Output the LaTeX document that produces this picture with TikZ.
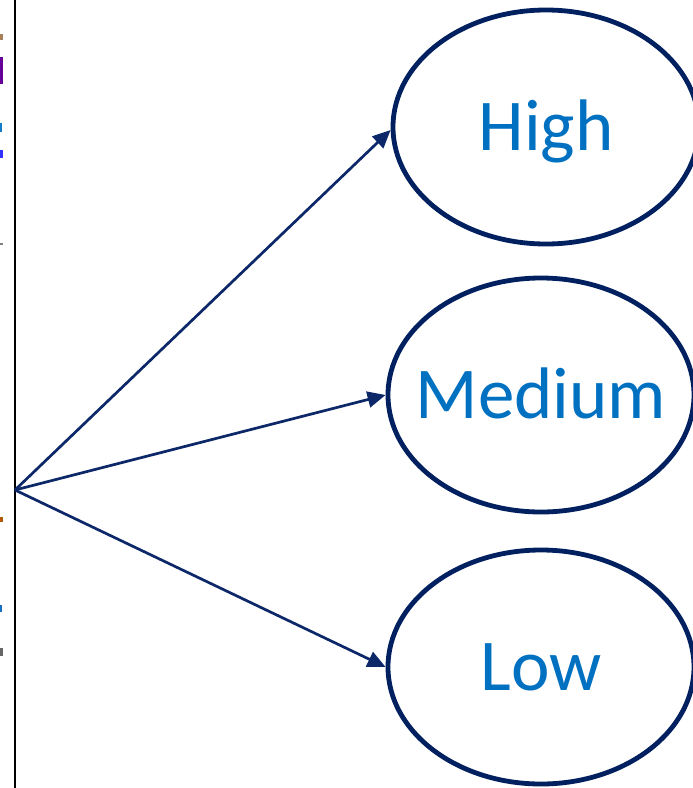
\documentclass[tikz,border=0pt]{standalone}
\usepackage{fontspec}
\setmainfont{Carlito}
\usetikzlibrary{shapes.geometric,arrows.meta}
\definecolor{navy}{HTML}{002060}
\definecolor{arrowblue}{HTML}{0D2869}
\definecolor{textblue}{HTML}{0070C0}
\newcommand{\lvltext}[1]{\makebox[0pt][c]{#1}}
\tikzset{
  level/.style={ellipse, draw=navy, line width=4.8pt, fill=white,
    minimum width=306pt, minimum height=234pt, inner sep=0pt,
    text height=47pt, text depth=0pt,
    text=textblue, font=\fontsize{73}{80}\selectfont},
  link/.style={draw=arrowblue, line width=2.7pt,
    -{Triangle[length=18pt,width=16pt]}}
}
\begin{document}
\begin{tikzpicture}[x=1pt,y=-1pt]
  \useasboundingbox (0,0) rectangle (693,788);
  \fill[white] (0,0) rectangle (693,788);

  % divider rule on the left
  \draw[black, line width=2.6pt] (15,0) -- (15,788);

  % clipped glyph remnants left of the rule
  \fill[gray!70!orange] (0,34) rectangle (2.5,40);
  \fill[violet!80!blue] (0,57) rectangle (3,84);
  \fill[cyan!60!blue] (0,123) rectangle (2,132);
  \fill[blue!80] (0,150) rectangle (2.5,158);
  \fill[gray] (0,243) rectangle (3,245);
  \fill[orange!70!black] (0,517) rectangle (2.5,522);
  \fill[cyan!50!blue] (0,605) rectangle (2,612);
  \fill[gray!80!black] (0,648) rectangle (2.5,656);

  % the three levels
  \node[level] (high) at (546,127) {\lvltext{High}};
  \node[level] (medium) at (541,395) {\lvltext{Medium}};
  \node[level] (low) at (541,667) {\lvltext{Low}};

  % common origin of the connectors
  \coordinate (src) at (15,490);

  \draw[link] (src) -- ([yshift=-3pt]high.west);
  \draw[link] (src) -- (medium.west);
  \draw[link] (src) -- (low.west);
\end{tikzpicture}
\end{document}
